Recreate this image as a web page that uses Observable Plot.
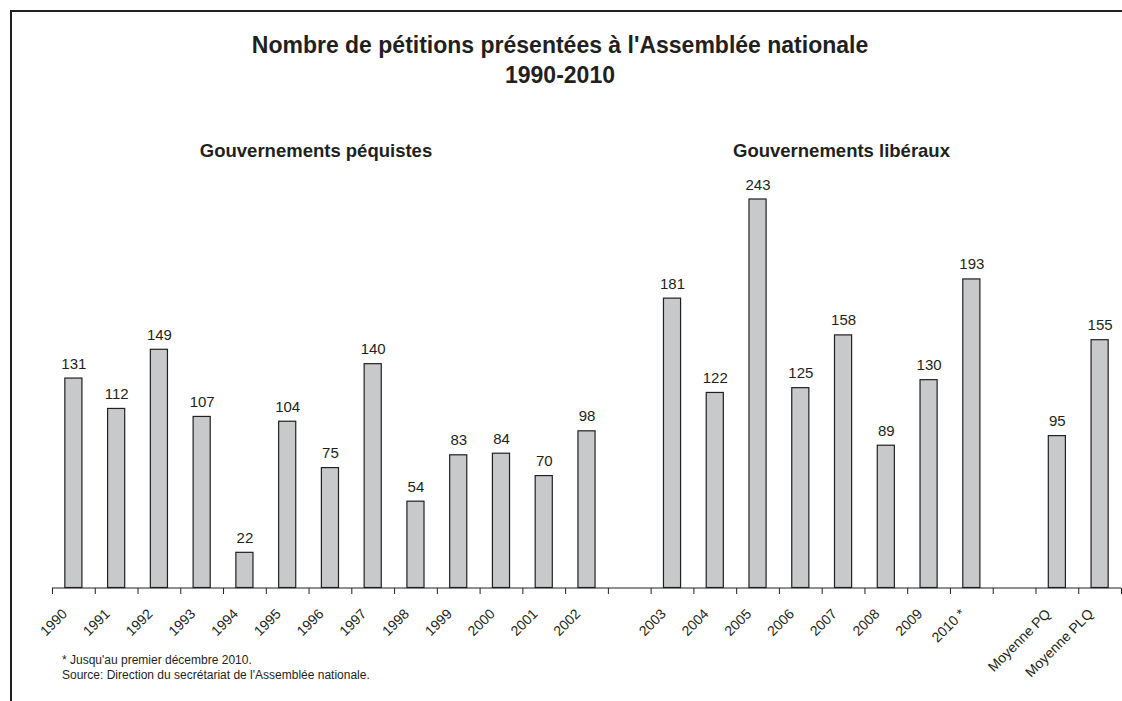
<!DOCTYPE html>
<html><head><meta charset="utf-8">
<script src="https://cdn.jsdelivr.net/npm/d3@7"></script>
<script src="https://cdn.jsdelivr.net/npm/@observablehq/plot@0.6"></script>
<style>
body{margin:0;background:#fff;font-family:"Liberation Sans",Arial,sans-serif;color:#231f20}
#wrap{position:relative;width:1122px;height:701px;overflow:hidden;background:#fff}
#frameTop{position:absolute;left:10px;top:10px;width:1112px;height:2px;background:#231f20}
#frameLeft{position:absolute;left:10px;top:10px;width:2px;height:691px;background:#231f20}
#title{position:absolute;left:0;top:30px;width:1120px;text-align:center;font-weight:bold;font-size:23px;line-height:30px}
.grp{position:absolute;top:140.5px;width:400px;text-align:center;font-weight:bold;font-size:18.5px;line-height:20px;white-space:nowrap}
#chart{position:absolute;left:0;top:0;width:1122px}
#chart svg{max-width:none}
#notes{position:absolute;left:62px;top:653px;font-size:12px;line-height:15px;white-space:nowrap}
</style></head><body>
<div id="wrap">
  <div id="chart"></div>
  <div id="frameTop"></div><div id="frameLeft"></div>
  <div id="title">Nombre de pétitions présentées à l'Assemblée nationale<br>1990-2010</div>
  <div class="grp" style="left:116px">Gouvernements péquistes</div>
  <div class="grp" style="left:641.5px">Gouvernements libéraux</div>
  <div id="notes">* Jusqu'au premier décembre 2010.<br>Source: Direction du secrétariat de l'Assemblée nationale.</div>
</div>
<script>
const categories = ["1990","1991","1992","1993","1994","1995","1996","1997","1998","1999","2000","2001","2002","gap1",
  "2003","2004","2005","2006","2007","2008","2009","2010 *","gap2","Moyenne PQ","Moyenne PLQ"];
const tickLabels = ["1990","1991","1992","1993","1994","1995","1996","1997","1998","1999","2000","2001","2002","",
  "2003","2004","2005","2006","2007","2008","2009","2010 *","","Moyenne PQ","Moyenne PLQ"];
const barCategories = ["1990","1991","1992","1993","1994","1995","1996","1997","1998","1999","2000","2001","2002",
  "2003","2004","2005","2006","2007","2008","2009","2010 *","Moyenne PQ","Moyenne PLQ"];
const petitions = [131,112,149,107,22,104,75,140,54,83,84,70,98,
  181,122,243,125,158,89,130,193,95,155];

const data = barCategories.map((c, i) => ({cat: c, value: petitions[i]}));
const labelOf = new Map(categories.map((c, i) => [c, tickLabels[i]]));

const W = 1122, H = 650, ML = 52, MR = 1;
const yTop = 199, yBase = 587.5, yMax = 243;
const step = (W - ML - MR) / categories.length;
const ink = "#231f20";

const chart = Plot.plot({
  width: W, height: H,
  marginLeft: ML, marginRight: MR, marginTop: yTop, marginBottom: 62,
  style: {fontFamily: "'Liberation Sans', Arial, sans-serif", fontSize: "14px", color: ink, background: "transparent", overflow: "visible"},
  x: {domain: categories, paddingInner: 0.6, paddingOuter: 0.3, round: false, axis: null},
  y: {domain: [0, yMax], range: [yBase, yTop], axis: null},
  marks: [
    Plot.barY(data, {x: "cat", y: "value", fill: "#c8c9cb", stroke: ink, strokeWidth: 1.2}),
    Plot.text(data, {x: "cat", y: "value", text: d => String(d.value), dy: -10, lineAnchor: "bottom", fontSize: 15, fill: ink}),
    Plot.ruleY([0], {stroke: ink, strokeWidth: 1}),
    Plot.axisX({tickSize: 6, tickFormat: () => "", label: null, dx: -step / 2, stroke: ink, strokeWidth: 1}),
    Plot.axisX([categories[categories.length - 1]], {tickSize: 6, tickFormat: () => "", label: null, dx: step / 2, stroke: ink, strokeWidth: 1}),
    Plot.axisX({tickSize: 0, tickRotate: -45, tickPadding: 3, fontSize: 14, fill: ink, label: null, tickFormat: d => labelOf.get(d), dx: -9, dy: 20})
  ]
});
document.getElementById("chart").appendChild(chart);
</script>
</body></html>
